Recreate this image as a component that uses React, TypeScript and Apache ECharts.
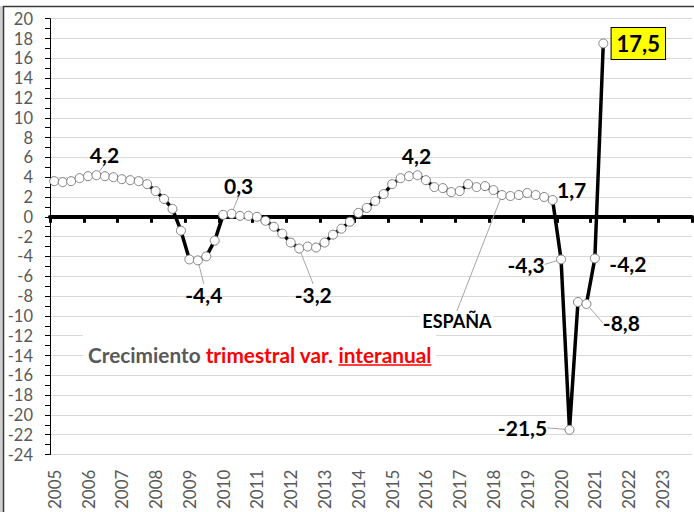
import React, { useEffect, useRef } from "react";
import * as echarts from "echarts";

// ---- categories (quarters) ----
const years = [2005, 2006, 2007, 2008, 2009, 2010, 2011, 2012, 2013, 2014, 2015, 2016, 2017, 2018, 2019, 2020, 2021, 2022, 2023];
const quarters = ["T1", "T2", "T3", "T4"];
const categories = years.flatMap((y) => quarters.map((q) => `${y}${q}`));

// ---- series values (% interannual, quarterly) ----
const v2005 = [3.6, 3.5, 3.6, 3.9];
const v2006 = [4.1, 4.2, 4.1, 4.0];
const v2007 = [3.8, 3.7, 3.6, 3.3];
const v2008 = [2.6, 1.8, 0.8, -1.4];
const v2009 = [-4.3, -4.4, -4.0, -2.4];
const v2010 = [0.2, 0.3, 0.1, 0.1];
const v2011 = [0.0, -0.4, -1.0, -1.7];
const v2012 = [-2.6, -3.2, -3.0, -3.1];
const v2013 = [-2.6, -1.8, -1.2, -0.5];
const v2014 = [0.4, 0.9, 1.6, 2.3];
const v2015 = [3.3, 3.9, 4.1, 4.2];
const v2016 = [3.7, 3.0, 2.9, 2.5];
const v2017 = [2.6, 3.3, 3.0, 3.1];
const v2018 = [2.7, 2.2, 2.1, 2.2];
const v2019 = [2.4, 2.2, 2.0, 1.7];
const v2020 = [-4.3, -21.5, -8.6, -8.8];
const v2021 = [-4.2, 17.5];
const values = [
  ...v2005, ...v2006, ...v2007, ...v2008, ...v2009, ...v2010, ...v2011, ...v2012, ...v2013,
  ...v2014, ...v2015, ...v2016, ...v2017, ...v2018, ...v2019, ...v2020, ...v2021,
];

// ---- labelled points ----
const labelIndices = [5, 17, 21, 29, 43, 59, 60, 61, 63, 64, 65];
const highlightIndex = 65;
const seriesNameIndex = 53;
const seriesName = "ESPAÑA";
const titleParts = ["Crecimiento ", "trimestral var. ", "interanual"];

// y axis range
const yMin = -24;
const yMax = 20;
const yStep = 2;

// label offsets (layout only)
const labelOffsets: Record<number, [number, number]> = {
  5: [8, -21],
  17: [6, 34],
  21: [7, -28],
  29: [14, 46],
  43: [-1, -20],
  59: [19, -10],
  60: [-35, 5],
  61: [-47, -2],
  63: [35, 19],
  64: [33, 5],
  65: [35, 0],
  53: [-45, 126],
};
const noLeader = [43, 64, 65, 59];

const FONT = "Lato";
const fmt = (v: number) => v.toFixed(1).replace(".", ",");

function measure(text: string, font: string) {
  const c = document.createElement("canvas").getContext("2d");
  if (!c) return text.length * 10;
  c.font = font;
  return c.measureText(text).width;
}

export default function App() {
  const ref = useRef<HTMLDivElement>(null);
  useEffect(() => {
    if (!ref.current) return;
    const chart = echarts.init(ref.current, null, { renderer: "svg" });

    const data = values.map((v, i) => {
      const isLab = labelIndices.includes(i);
      const isName = i === seriesNameIndex;
      if (!isLab && !isName) return v;
      const label: any = {
        show: true,
        formatter: isName ? seriesName : fmt(v),
        fontFamily: FONT,
        fontWeight: "bold",
        fontSize: isName ? 18 : 21,
        color: "#000",
      };
      if (isName) {
        label.backgroundColor = "#fff";
        label.padding = [1, 2];
      }
      if (i === highlightIndex) {
        label.backgroundColor = "#ffff00";
        label.borderColor = "#000";
        label.borderWidth = 1;
        label.padding = [3, 5];
        label.fontSize = 22;
        label.lineHeight = 25;
      }
      return {
        value: v,
        label,
        labelLine: { show: !noLeader.includes(i) },
      };
    });

    // title in box
    const titleFont = `bold 20.8px ${FONT}`;
    const w0 = measure(titleParts[0], titleFont);
    const w1 = measure(titleParts[1], titleFont);
    const w2 = measure(titleParts[2], titleFont);
    const tx = 88;
    const ty = 354;

    const option: any = {
      animation: false,
      grid: { left: 50, right: 2, top: 18.7, bottom: 52, containLabel: false },
      xAxis: [
        {
          type: "category",
          data: categories,
          position: "bottom",
          boundaryGap: true,
          axisLine: { show: false, onZero: false },
          axisTick: { show: false },
          splitLine: { show: false },
          axisLabel: {
            interval: 3,
            rotate: 90,
            margin: 15,
            formatter: (v: string) => v.slice(0, 4),
            fontFamily: FONT,
            fontSize: 17,
            color: "#595959",
          },
        },
        {
          type: "category",
          data: categories,
          position: "bottom",
          boundaryGap: true,
          axisLine: { show: true, onZero: true, lineStyle: { color: "#000", width: 4 } },
          axisTick: { show: true, interval: 3, length: 6, lineStyle: { color: "#000", width: 3 } },
          axisLabel: { show: false },
          splitLine: { show: false },
        },
      ],
      yAxis: {
        type: "value",
        min: yMin,
        max: yMax,
        interval: yStep,
        axisLine: { show: true, onZero: false, lineStyle: { color: "#000", width: 1 } },
        axisTick: { show: true, length: 5, lineStyle: { color: "#000" } },
        minorTick: { show: true, splitNumber: 2, length: 5, lineStyle: { color: "#000" } },
        axisLabel: { fontFamily: FONT, fontSize: 16.5, color: "#595959", margin: 17 },
        splitLine: { show: true, lineStyle: { color: "#d9d9d9", width: 1 } },
      },
      series: [
        {
          type: "line",
          xAxisIndex: 0,
          data,
          symbol: "circle",
          symbolSize: 9,
          showAllSymbol: true,
          itemStyle: { color: "#fff", borderColor: "#7f7f7f", borderWidth: 1 },
          lineStyle: { color: "#000", width: 3.5 },
          label: { show: false },
          labelLine: { show: true, lineStyle: { color: "#a6a6a6", width: 1 } },
          labelLayout: (params: any) => {
            const off = labelOffsets[params.dataIndex];
            if (!off) return {};
            const r = params.rect;
            return {
              x: r.x + r.width / 2 + off[0],
              y: r.y + r.height / 2 + off[1],
              align: "center",
              verticalAlign: "middle",
            };
          },
          emphasis: { disabled: true },
          z: 3,
        },
      ],
      graphic: [
        { type: "rect", silent: true, z: 50, shape: { x: 0, y: 6, width: 3, height: 506 }, style: { fill: "#cfcfcf" } },
        { type: "rect", silent: true, z: 60, shape: { x: 3.5, y: 6.5, width: 800, height: 600 }, style: { fill: "none", stroke: "#3a3a3a", lineWidth: 1.5 } },
        { type: "rect", silent: true, z: 50, shape: { x: 83, y: 329, width: 353, height: 46 }, style: { fill: "#fff" } },
        {
          type: "text", silent: true, z: 51,
          style: { x: tx, y: ty, text: titleParts[0], font: titleFont, fill: "#595959", textAlign: "left", textVerticalAlign: "middle", align: "left", verticalAlign: "middle" },
        },
        {
          type: "text", silent: true, z: 51,
          style: { x: tx + w0, y: ty, text: titleParts[1], font: titleFont, fill: "#ff0000", textAlign: "left", textVerticalAlign: "middle", align: "left", verticalAlign: "middle" },
        },
        {
          type: "text", silent: true, z: 51,
          style: { x: tx + w0 + w1, y: ty, text: titleParts[2], font: titleFont, fill: "#ff0000", textAlign: "left", textVerticalAlign: "middle", align: "left", verticalAlign: "middle" },
        },
        {
          type: "line", silent: true, z: 51,
          shape: { x1: tx + w0 + w1, y1: 365, x2: tx + w0 + w1 + w2, y2: 365 },
          style: { stroke: "#ff0000", lineWidth: 1.6 },
        },
      ],
    };
    chart.setOption(option);
    return () => chart.dispose();
  }, []);
  return <div ref={ref} style={{ position: "absolute", left: 0, top: 0, width: 694, height: 512, background: "#fff" }} />;
}
